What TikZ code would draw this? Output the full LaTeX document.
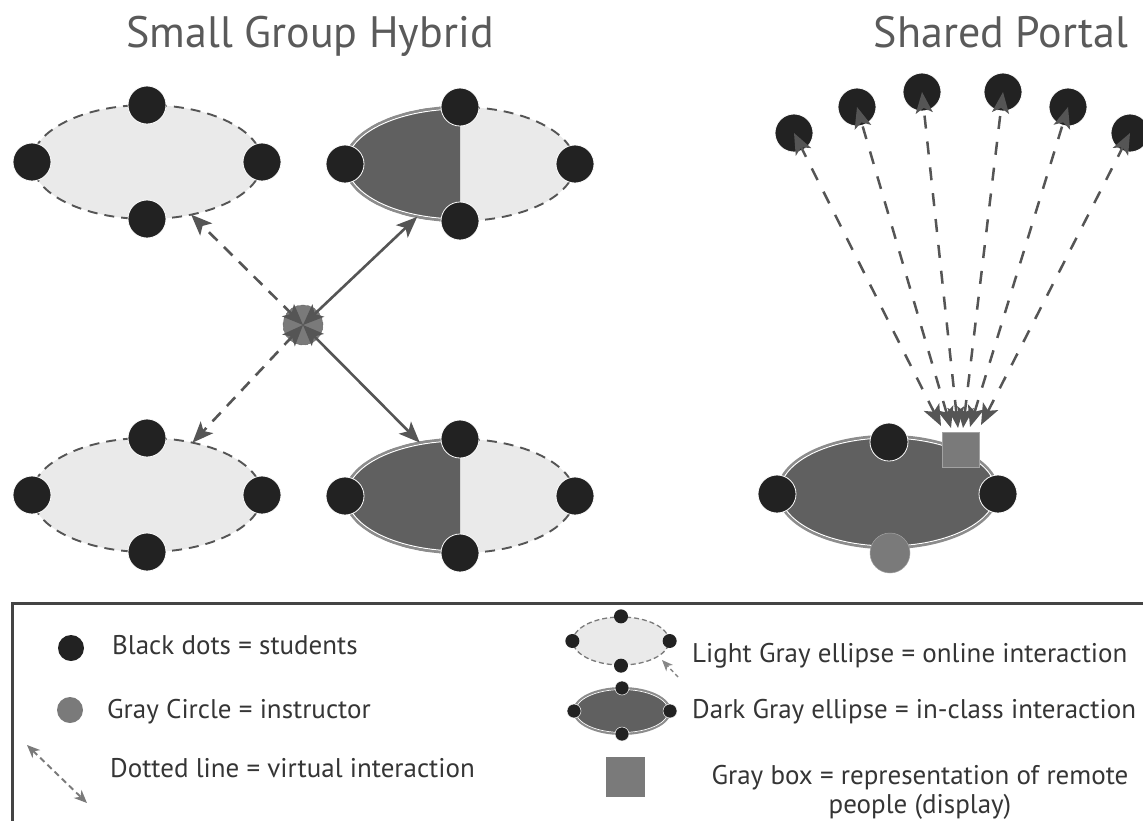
\documentclass[tikz,border=0pt]{standalone}
\usepackage{fontspec}
\setmainfont{PT Sans}
\usetikzlibrary{arrows.meta,shapes.geometric,calc}

\definecolor{dotc}{HTML}{222222}
\definecolor{lightfill}{HTML}{EAEAEA}
\definecolor{darkfill}{HTML}{606060}
\definecolor{instr}{HTML}{7A7A7A}
\definecolor{linec}{HTML}{555555}
\definecolor{rimc}{HTML}{8C8C8C}
\definecolor{titlec}{HTML}{5A5A5A}
\definecolor{textc}{HTML}{353535}
\definecolor{framec}{HTML}{444444}

\begin{document}
\begin{tikzpicture}[x=1pt,y=-1pt,
  student/.style={circle,fill=dotc,draw=white,line width=0.8pt,minimum size=38pt,inner sep=0pt,outer sep=0pt},
  smallstudent/.style={student,minimum size=14pt,line width=0.5pt},
  instructor/.style={circle,fill=instr,draw=instr!85!black,dashed,line width=0.5pt,minimum size=40pt,inner sep=0pt},
  onlinegroup/.style={ellipse,fill=lightfill,draw=linec,line width=1.9pt,dash pattern=on 10pt off 7pt,
    minimum width=230pt,minimum height=114pt,inner sep=0pt,outer sep=0pt},
  classfill/.style={ellipse,fill=darkfill,draw=rimc,line width=2.4pt,inner sep=0pt,outer sep=0pt},
  classrim/.style={ellipse,draw=white,line width=1pt,inner sep=0pt,outer sep=0pt},
  screen/.style={rectangle,fill=instr,draw=instr!70!white,line width=0.8pt,minimum width=37pt,minimum height=35pt,inner sep=0pt},
  tips/.style={{Stealth[length=21pt,width=17pt,inset=5pt]}-{Stealth[length=21pt,width=17pt,inset=5pt]}},
  link/.style={draw=linec,line width=2.6pt,tips},
  vlink/.style={draw=linec,line width=2.6pt,dash pattern=on 12pt off 9pt,tips},
  plink/.style={draw=linec,line width=2.5pt,dash pattern=on 13pt off 13pt,tips},
  title/.style={font=\fontsize{44}{48}\selectfont,text=titlec,inner sep=0pt,anchor=base},
  ltext/.style={font=\fontsize{27}{30}\selectfont,text=textc,inner sep=0pt,anchor=base west},
]
\useasboundingbox (0,0) rectangle (1143,820);

% ---------- titles ----------
\node[title] (t-hybrid) at (310,47) {Small Group Hybrid};
\node[title] (t-portal) at (1001,47) {Shared Portal};

% ---------- small group hybrid: online groups ----------
\node[onlinegroup] (tl) at (147,162) {};
\node[onlinegroup] (bl) at (147,495) {};

% ---------- small group hybrid: mixed groups (in-class half on the left) ----------
\node[onlinegroup] (tr) at (460,164) {};
\node[onlinegroup] (br) at (460,496) {};
\foreach \g in {tr,br}{
  \begin{scope}
    \clip ($(\g.center)+(-125,-65)$) rectangle ($(\g.center)+(0,65)$);
    \node[classfill,minimum width=230pt,minimum height=114pt] (\g-dark) at (\g.center) {};
    \node[classrim,minimum width=226pt,minimum height=110pt] (\g-rim) at (\g.center) {};
  \end{scope}
}

% students around every group
\foreach \g in {tl,bl,tr,br}{
  \node[student] (\g-n) at (\g.north) {};
  \node[student] (\g-s) at (\g.south) {};
  \node[student] (\g-w) at (\g.west) {};
  \node[student] (\g-e) at (\g.east) {};
}

% instructor and its links
\node[instructor] (inst) at (303,325) {};
\draw[vlink] (inst.center) -- (tl.-50);
\draw[link]  (inst.center) -- (tr.231);
\draw[vlink] (inst.center) -- (bl.49);
\draw[link]  (inst.center) -- (br.127);

% ---------- shared portal ----------
\node[classfill,minimum width=220pt,minimum height=112pt] (sp) at (888,492) {};
\node[classrim,minimum width=216pt,minimum height=108pt] (sp-rim) at (888,492) {};
\node[student] (sp-n) at (889,442) {};
\node[student] (sp-w) at (777,494) {};
\node[student] (sp-e) at (998,494) {};
\node[instructor,solid,draw=instr!70!white] (sp-i) at (890,553) {};
\node[screen] (scr) at (961,450) {};

% remote people
\node[student] (r1) at (794,133) {};
\node[student] (r2) at (857,107) {};
\node[student] (r3) at (922,92) {};
\node[student] (r4) at (1003,92) {};
\node[student] (r5) at (1068,107) {};
\node[student] (r6) at (1130,133) {};

% arrival points on top of the display
\coordinate (p1) at (941,426);
\coordinate (p2) at (951,428);
\coordinate (p3) at (958,428);
\coordinate (p4) at (963,428);
\coordinate (p5) at (970,427);
\coordinate (p6) at (981,425);
\foreach \i in {1,...,6}{
  \draw[plink] (p\i) -- (r\i.center);
}

% ---------- legend ----------
\draw[framec,line width=3pt] (12,830) -- (12,603) -- (1150,603);

\node[student,minimum size=26pt,draw=none] (lg-dot) at (71,648) {};
\node[ltext] (lg-t1) at (112,654) {Black dots = students};

\node[instructor,minimum size=26pt,solid,draw=none] (lg-inst) at (70,710) {};
\node[ltext] (lg-t2) at (107,718) {Gray Circle = instructor};

\coordinate (lg-a1) at (27,745);
\coordinate (lg-a2) at (87,803);
\draw[draw=instr,line width=1.9pt,dash pattern=on 6pt off 4pt,
  {Stealth[length=13pt,width=11pt,inset=4pt]}-{Stealth[length=13pt,width=11pt,inset=4pt]}] (lg-a1) -- (lg-a2);
\node[ltext] (lg-t3) at (110,777) {Dotted line = virtual interaction};

% light group sample
\node[ellipse,fill=lightfill,draw=instr,line width=1.3pt,dash pattern=on 5pt off 3pt,
  minimum width=96pt,minimum height=48pt,inner sep=0pt] (lg-on) at (621,641) {};
\foreach \a in {north,south,east,west}{
  \node[smallstudent,draw=none] (lg-on-\a) at (lg-on.\a) {};
}
\coordinate (lg-b1) at (678,677);
\coordinate (lg-b2) at (662,660);
\draw[draw=instr!90!white,line width=1.4pt,dash pattern=on 4pt off 3pt,
  -{Stealth[length=11pt,width=9pt,inset=3pt]}] (lg-b1) -- (lg-b2);
\node[ltext] (lg-t4) at (692,662) {Light Gray ellipse = online interaction};

% dark group sample
\node[classfill,line width=2pt,minimum width=96pt,minimum height=46pt] (lg-cl) at (622,711) {};
\node[classrim,line width=0.7pt,minimum width=93pt,minimum height=43pt] (lg-cl-rim) at (622,711) {};
\foreach \a in {north,south,east,west}{
  \node[smallstudent] (lg-cl-\a) at (lg-cl.\a) {};
}
\node[ltext] (lg-t5) at (692,718) {Dark Gray ellipse = in-class interaction};

% display sample
\node[screen,draw=none,minimum width=39pt,minimum height=40pt] (lg-scr) at (625,777) {};
\node[font=\fontsize{27}{29}\selectfont,text=textc,align=center,inner sep=0pt] (lg-t6) at (920,792)
  {Gray box = representation of remote\\people (display)};
\end{tikzpicture}
\end{document}
